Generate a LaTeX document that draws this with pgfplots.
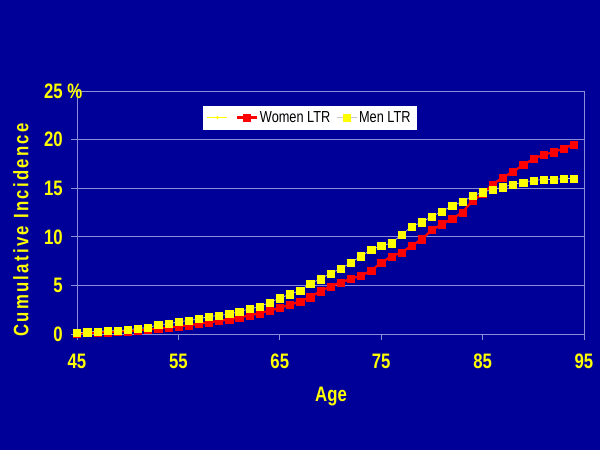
\documentclass[border=0pt]{standalone}
\usepackage{pgfplots}
\pgfplotsset{compat=1.18}
\usepackage{pgfplotstable}
\usepackage{fontspec}
\setmainfont{Liberation Sans}[FakeStretch=0.8]
\definecolor{bgblue}{RGB}{0,0,153}
\definecolor{gridc}{RGB}{140,140,215}
\definecolor{ylw}{RGB}{255,255,0}
\definecolor{rd}{RGB}{255,0,0}
\definecolor{lnc}{RGB}{200,200,200}
\pgfplotstableread{
age inc
45 0.05
46 0.1
47 0.15
48 0.2
49 0.25
50 0.3
51 0.38
52 0.47
53 0.57
54 0.67
55 0.78
56 0.9
57 1.05
58 1.2
59 1.35
60 1.5
61 1.7
62 1.9
63 2.15
64 2.4
65 2.7
66 3.0
67 3.35
68 3.8
69 4.4
70 4.9
71 5.3
72 5.67
73 6.0
74 6.5
75 7.35
76 7.97
77 8.4
78 9.07
79 9.76
80 10.7
81 11.3
82 11.86
83 12.5
84 13.7
85 14.4
86 15.4
87 16.1
88 16.7
89 17.4
90 18.0
91 18.45
92 18.7
93 19.1
94 19.5
}\women
\pgfplotstableread{
age inc
45 0.13
46 0.2
47 0.28
48 0.33
49 0.35
50 0.42
51 0.58
52 0.65
53 0.96
54 1.03
55 1.27
56 1.37
57 1.55
58 1.8
59 1.9
60 2.06
61 2.3
62 2.58
63 2.8
64 3.26
65 3.68
66 4.1
67 4.45
68 5.2
69 5.65
70 6.25
71 6.7
72 7.35
73 8.0
74 8.66
75 9.07
76 9.35
77 10.2
78 11.06
79 11.5
80 12.1
81 12.6
82 13.2
83 13.6
84 14.2
85 14.6
86 14.85
87 15.1
88 15.4
89 15.6
90 15.8
91 15.9
92 15.9
93 16.0
94 16.0
}\men
\begin{document}
\begin{tikzpicture}
\fill[bgblue] (-77bp,-116bp) rectangle (523bp,334bp);
\begin{axis}[
  at={(0,0)}, anchor=south west,
  scale only axis, width=507bp, height=243bp,
  xmin=45, xmax=95, ymin=0, ymax=25,
  xtick={45,55,65,75,85,95},
  ytick={0,5,10,15,20,25},
  yticklabels={0,5,10,15,20,{25\rlap{ \%}}},
  /pgf/number format/assume math mode=true,
  axis line style={gridc, line width=0.8bp},
  ymajorgrids, grid style={gridc, line width=0.8bp},
  xtick pos=left, ytick pos=left,
  tick align=outside, major tick length=6bp,
  tick style={gridc, line width=0.8bp},
  ticklabel style={font=\fontsize{21}{24}\selectfont\bfseries, text=ylw},
  xticklabel style={inner sep=0pt, anchor=north, yshift=-14bp},
  yticklabel style={inner sep=0pt, anchor=east, xshift=-8bp},
  xlabel={Age},
  xlabel style={at={(axis description cs:0.501,-0.259)}, anchor=center, font=\fontsize{21}{24}\selectfont\bfseries, text=ylw},
  ylabel={\addfontfeature{LetterSpace=11}Cumulative Incidence},
  ylabel style={at={(axis description cs:-0.1105,0.428)}, anchor=center, font=\fontsize{21}{24}\selectfont\bfseries, text=ylw},
  legend columns=3,
  legend style={at={(axis description cs:0.2485,0.938)}, anchor=north west,
    fill=white, draw=white, font=\fontsize{16}{18}\selectfont, text=black,
    inner xsep=4bp, inner ysep=3bp,
    /tikz/every even column/.append style={column sep=4bp}},
  legend image code/.code={\draw[#1] (0bp,0bp) -- (20bp,0bp); \draw[#1, mark repeat=2, mark phase=2] plot coordinates {(0bp,0bp) (10bp,0bp) (20bp,0bp)};},
]
\addlegendimage{ylw, line width=0.6bp, mark=*, mark size=1.2bp}
\addlegendentry{}
\addplot[rd, line width=2.2bp, mark=square*, mark size=3.6bp, mark options={fill=rd, draw=rd, line width=0.3bp}] table[x=age, y=inc] {\women};
\addlegendentry{Women LTR}
\addplot[lnc, line width=0.7bp, mark=square*, mark size=3.6bp, mark options={fill=ylw, draw=ylw, line width=0.3bp}] table[x=age, y=inc] {\men};
\addlegendentry{Men LTR}
\end{axis}
\pgfresetboundingbox
\useasboundingbox (-77bp,-116bp) rectangle (523bp,334bp);
\end{tikzpicture}
\end{document}
